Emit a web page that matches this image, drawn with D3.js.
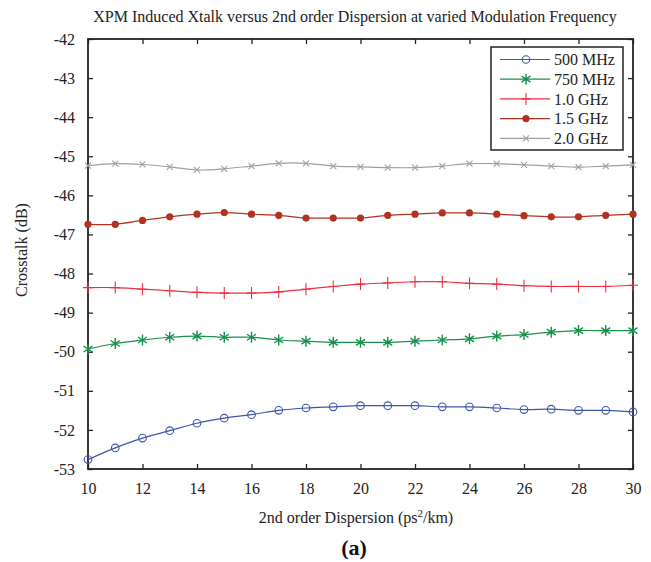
<!DOCTYPE html>
<html>
<head>
<meta charset="utf-8">
<script src="https://cdn.jsdelivr.net/npm/d3@7"></script>
<style>
  body { margin: 0; background: #fff; }
  svg { font-family: 'Liberation Serif', 'Times New Roman', serif; }
</style>
</head>
<body>
<div id="chart"></div>
<script>
const dispersion = [10, 11, 12, 13, 14, 15, 16, 17, 18, 19, 20, 21, 22, 23, 24, 25, 26, 27, 28, 29, 30]

const xtalk500MHz = [-52.76, -52.46, -52.21, -52.02, -51.83, -51.70, -51.61, -51.50, -51.44, -51.41, -51.38,
  -51.38, -51.38, -51.41, -51.41, -51.44, -51.48, -51.47, -51.50, -51.50, -51.54]
const xtalk750MHz = [-49.93, -49.79, -49.70, -49.63, -49.60, -49.63, -49.63, -49.70, -49.73, -49.76, -49.76,
  -49.76, -49.73, -49.70, -49.67, -49.60, -49.56, -49.50, -49.46, -49.46, -49.46]
const xtalk1GHz = [-48.36, -48.36, -48.40, -48.44, -48.48, -48.50, -48.50, -48.47, -48.40, -48.33, -48.27,
  -48.24, -48.21, -48.21, -48.25, -48.27, -48.31, -48.33, -48.33, -48.33, -48.30]
const xtalk15GHz = [-46.74, -46.74, -46.64, -46.55, -46.48, -46.44, -46.48, -46.51, -46.58, -46.58, -46.58,
  -46.51, -46.48, -46.45, -46.45, -46.48, -46.52, -46.55, -46.55, -46.51, -46.48]
const xtalk2GHz = [-45.24, -45.19, -45.21, -45.27, -45.35, -45.32, -45.25, -45.18, -45.18, -45.25, -45.27,
  -45.29, -45.29, -45.25, -45.19, -45.19, -45.22, -45.25, -45.28, -45.25, -45.22]

const seriesNames = ['500 MHz', '750 MHz', '1.0 GHz', '1.5 GHz', '2.0 GHz']
const seriesValues = [xtalk500MHz, xtalk750MHz, xtalk1GHz, xtalk15GHz, xtalk2GHz]
const xTicks = [10, 12, 14, 16, 18, 20, 22, 24, 26, 28, 30]
const yTicks = [-42, -43, -44, -45, -46, -47, -48, -49, -50, -51, -52, -53]

const seriesStyle = [
  { color: '#3c56a8', marker: 'circle' },
  { color: '#17904a', marker: 'star' },
  { color: '#ec3040', marker: 'plus' },
  { color: '#b2321f', marker: 'dot' },
  { color: '#a0a0a0', marker: 'cross' }
]

const width = 651
const height = 562
const margin = { top: 39, right: 18, bottom: 93, left: 88 }
const innerW = width - margin.left - margin.right
const innerH = height - margin.top - margin.bottom

const svg = d3.select('#chart')
  .append('svg')
  .attr('width', width)
  .attr('height', height)

const g = svg.append('g')
  .attr('transform', `translate(${margin.left}, ${margin.top})`)

const x = d3.scaleLinear().domain([10, 30]).range([0, innerW])
const y = d3.scaleLinear().domain([-53, -42]).range([innerH, 0])

// plain hyphen for negatives, like the original
const fmt = d => String(d)

// axes with inward ticks on all four sides
const tickStyle = sel => {
  sel.attr('font-family', null).attr('font-size', null)
  sel.select('.domain').remove()
  sel.selectAll('.tick line').attr('stroke', '#222').attr('stroke-width', 1.3)
  sel.selectAll('.tick text').attr('fill', '#222').style('font-size', '16px')
}

g.append('g')
  .attr('transform', `translate(0, ${innerH})`)
  .call(d3.axisBottom(x).tickValues(xTicks).tickSizeInner(-5).tickPadding(14).tickFormat(fmt))
  .call(tickStyle)

g.append('g')
  .call(d3.axisTop(x).tickValues(xTicks).tickSizeInner(-5).tickFormat(''))
  .call(tickStyle)

g.append('g')
  .call(d3.axisLeft(y).tickValues(yTicks).tickSizeInner(-5).tickPadding(13).tickFormat(fmt))
  .call(tickStyle)

g.append('g')
  .attr('transform', `translate(${innerW}, 0)`)
  .call(d3.axisRight(y).tickValues(yTicks).tickSizeInner(-5).tickFormat(''))
  .call(tickStyle)

g.append('rect')
  .attr('width', innerW)
  .attr('height', innerH)
  .attr('fill', 'none')
  .attr('stroke', '#222')
  .attr('stroke-width', 1.8)

// marker drawing
function drawMarker (sel, type, color) {
  if (type === 'circle') {
    sel.append('circle').attr('r', 3.8).attr('fill', 'none').attr('stroke', color).attr('stroke-width', 1.1)
  } else if (type === 'dot') {
    sel.append('circle').attr('r', 3.6).attr('fill', color)
  } else if (type === 'plus') {
    sel.append('path').attr('d', 'M0,-6V6M-5,0H5').attr('stroke', color).attr('stroke-width', 1.1)
  } else if (type === 'cross') {
    sel.append('path').attr('d', 'M-3,-3L3,3M-3,3L3,-3').attr('stroke', color).attr('stroke-width', 1.1)
  } else if (type === 'star') {
    sel.append('path').attr('d', 'M0,-5.5V5.5M-4.5,-3L4.5,3M-4.5,3L4.5,-3').attr('stroke', color).attr('stroke-width', 1.4)
  }
}

const line = d3.line()
  .x((d, i) => x(dispersion[i]))
  .y(d => y(d))
  .curve(d3.curveCatmullRom)

seriesValues.forEach((values, k) => {
  const st = seriesStyle[k]
  g.append('path')
    .datum(values)
    .attr('d', line)
    .attr('fill', 'none')
    .attr('stroke', st.color)
    .attr('stroke-width', 1.2)

  g.selectAll(`.m${k}`)
    .data(values)
    .enter()
    .append('g')
    .attr('class', `m${k}`)
    .attr('transform', (d, i) => `translate(${x(dispersion[i])}, ${y(d)})`)
    .each(function () { drawMarker(d3.select(this), st.marker, st.color) })
})

// legend
const legend = svg.append('g').attr('transform', 'translate(491, 47)')
legend.append('rect')
  .attr('width', 132)
  .attr('height', 103)
  .attr('fill', '#fff')
  .attr('stroke', '#222')
  .attr('stroke-width', 1.5)

seriesNames.forEach((name, k) => {
  const st = seriesStyle[k]
  const row = legend.append('g').attr('transform', `translate(0, ${12.5 + k * 19.7})`)
  row.append('line').attr('x1', 9).attr('x2', 59).attr('stroke', st.color).attr('stroke-width', 1.2)
  drawMarker(row.append('g').attr('transform', 'translate(35, 0)'), st.marker, st.color)
  row.append('text')
    .attr('x', 63)
    .attr('dy', '0.35em')
    .attr('fill', '#222')
    .style('font-size', '16px')
    .text(name)
})

// titles
svg.append('text')
  .attr('x', 355)
  .attr('y', 22)
  .attr('text-anchor', 'middle')
  .attr('fill', '#222')
  .style('font-size', '16px')
  .text('XPM Induced Xtalk versus 2nd order Dispersion at varied Modulation Frequency')

svg.append('text')
  .attr('transform', `translate(27, ${margin.top + innerH / 2 - 4}) rotate(-90)`)
  .attr('text-anchor', 'middle')
  .attr('fill', '#222')
  .style('font-size', '16px')
  .text('Crosstalk (dB)')

const xl = svg.append('text')
  .attr('x', 356)
  .attr('y', 523)
  .attr('text-anchor', 'middle')
  .attr('fill', '#222')
  .style('font-size', '16px')
xl.append('tspan').text('2nd order Dispersion (ps')
xl.append('tspan').attr('dy', -6).style('font-size', '11px').text('2')
xl.append('tspan').attr('dy', 6).text('/km)')

svg.append('text')
  .attr('x', 354)
  .attr('y', 555)
  .attr('text-anchor', 'middle')
  .attr('fill', '#111')
  .style('font-size', '22px')
  .style('font-weight', 'bold')
  .text('(a)')
</script>
</body>
</html>
